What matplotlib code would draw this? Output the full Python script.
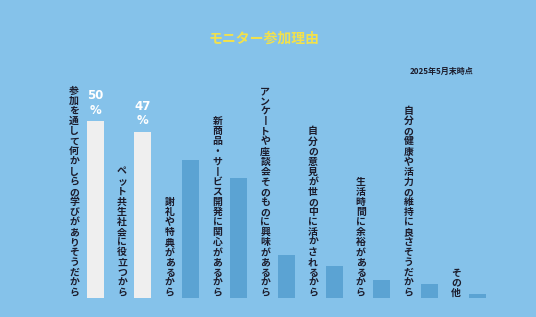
import matplotlib
matplotlib.use("Agg")
import matplotlib.pyplot as plt

plt.rcParams['font.family'] = ['Noto Sans CJK JP', 'DejaVu Sans']

# data
labels = [
    "参加を通して何かしらの学びがありそうだから",
    "ペット共生社会に役立つから",
    "謝礼や特典があるから",
    "新商品・サービス開発に関心があるから",
    "アンケートや座談会そのものに興味があるから",
    "自分の意見が世の中に活かされるから",
    "生活時間に余裕があるから",
    "自分の健康や活力の維持に良さそうだから",
    "その他",
]
values = [50, 47, 39, 34, 12, 9, 5, 4, 1]
highlight = [True, True, False, False, False, False, False, False, False]

BG = '#85C2EA'
BAR = '#5BA3D3'
LIGHT = '#EFEFEF'
TXT = '#1c1c2c'

W, H = 536, 317
fig = plt.figure(figsize=(W / 100, H / 100), dpi=100)
fig.patch.set_facecolor(BG)
ax = fig.add_axes([0, 0, 1, 1])
ax.set_facecolor(BG)
ax.axis('off')

# pixel mapping: bar centres 95.2 + 47.76*i, baseline 297.7px from top, 3.534 px per %
x0, dx = 95.2, 47.76
base, ppu = 297.7, 3.534
ax.set_xlim(-x0 / dx, (W - x0) / dx)
ax.set_ylim(-(H - base) / ppu, base / ppu)

xs = list(range(len(values)))
colors = [LIGHT if h else BAR for h in highlight]
ax.bar(xs, values, width=17 / dx, color=colors, linewidth=0)


def vert(s):
    return "\n".join("丨" if c == "ー" else c for c in s)


for x, lab in zip(xs, labels):
    ax.text(x - 0.44, 0, vert(lab), ha='center', va='bottom', fontsize=7.1,
            fontweight='bold', color=TXT, linespacing=1.01,
            multialignment='center')

for x, v, h in zip(xs, values, highlight):
    if h:
        ax.text(x, v + 1.2, f"{v}\n%", ha='center', va='bottom', fontsize=8.5,
                fontweight='bold', color='white', family='DejaVu Sans',
                linespacing=1.15)

fig.text(264.5 / W, 1 - 39 / H, "モニター参加理由", ha='center', va='center',
         fontsize=10, fontweight='bold', color='#F2E14C')
fig.text(473 / W, 1 - 71 / H, "2025年5月末時点", ha='right', va='center',
         fontsize=5.8, fontweight='bold', color=TXT)

fig.savefig('out.png', dpi=100, facecolor=BG)
